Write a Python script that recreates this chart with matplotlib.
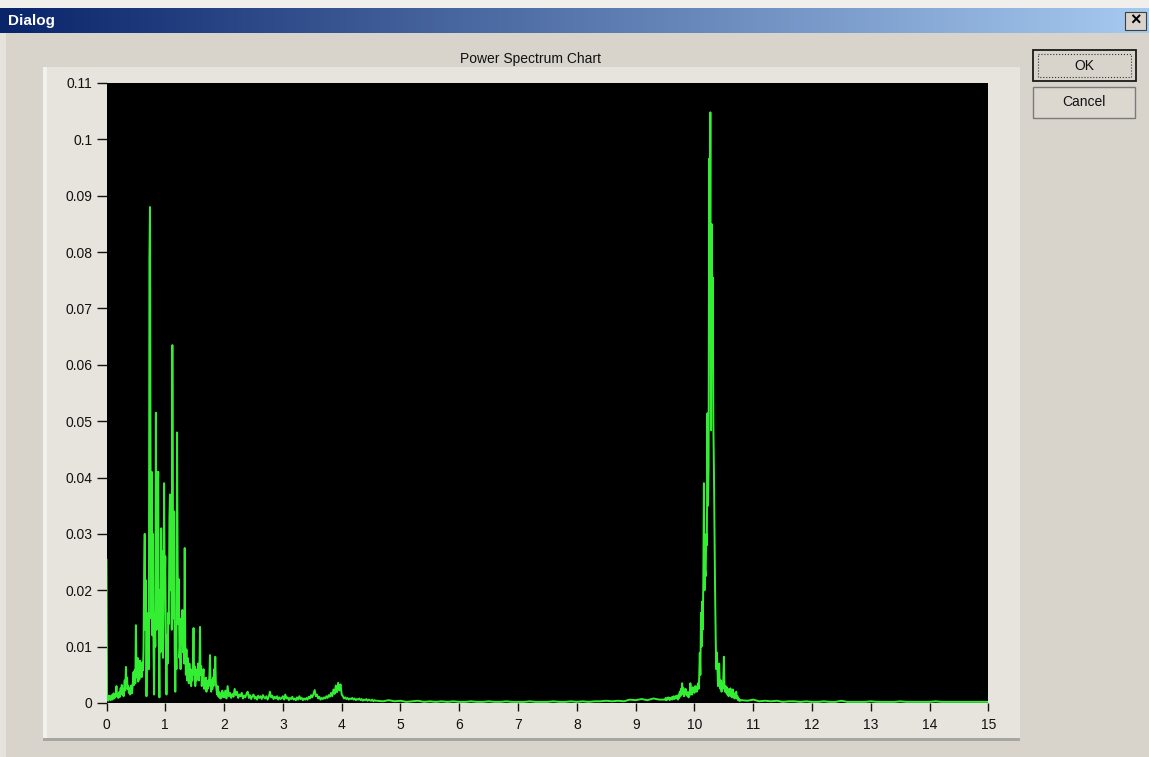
# Power spectrum chart inside an old Windows-style dialog
import numpy as np
import matplotlib.pyplot as plt
from matplotlib.patches import Rectangle

plt.rcParams['font.family'] = ['Liberation Sans', 'DejaVu Sans']

# spectrum values (start Hz, step Hz, power)
low_start, low_step = 0.0, 0.01
power_low = [
    0.0254, 0.0006, 0.0011, 0.0004, 0.0013, 0.0007, 0.0012, 0.0005, 0.0010, 0.0014,
    0.0006, 0.0012, 0.0017, 0.0008, 0.0013, 0.0010, 0.0021, 0.0030, 0.0012, 0.0016,
    0.0009, 0.0014, 0.0020, 0.0011, 0.0026, 0.0018, 0.0032, 0.0015, 0.0024, 0.0012,
    0.0028, 0.0040, 0.0022, 0.0064, 0.0036, 0.0045, 0.0025, 0.0030, 0.0018, 0.0026,
    0.0015, 0.0022, 0.0031, 0.0017, 0.0024, 0.0040, 0.0055, 0.0032, 0.0058, 0.0035,
    0.0138, 0.0062, 0.0045, 0.0080, 0.0038, 0.0068, 0.0042, 0.0075, 0.0050, 0.0065,
    0.0046, 0.0072, 0.0058, 0.0095, 0.0230, 0.0300, 0.0130, 0.0218, 0.0012, 0.0150,
    0.0090, 0.0160, 0.0060, 0.0790, 0.0880, 0.0410, 0.0150, 0.0410, 0.0120, 0.0300,
    0.0090, 0.0015, 0.0160, 0.0100, 0.0515, 0.0130, 0.0410, 0.0380, 0.0410, 0.0110,
    0.0010, 0.0200, 0.0090, 0.0310, 0.0150, 0.0270, 0.0080, 0.0160, 0.0390, 0.0210,
    0.0260, 0.0100, 0.0015, 0.0120, 0.0070, 0.0160, 0.0140, 0.0330, 0.0370, 0.0200,
    0.0366, 0.0130, 0.0635, 0.0340, 0.0150, 0.0340, 0.0090, 0.0020, 0.0110, 0.0060,
    0.0480, 0.0250, 0.0140, 0.0220, 0.0080, 0.0100, 0.0060, 0.0150, 0.0110, 0.0165,
    0.0090, 0.0130, 0.0070, 0.0275, 0.0100, 0.0050, 0.0095, 0.0040, 0.0080, 0.0060,
    0.0035, 0.0070, 0.0045, 0.0060, 0.0030, 0.0055, 0.0040, 0.0070, 0.0133, 0.0050,
    0.0065, 0.0030, 0.0055, 0.0040, 0.0060, 0.0045, 0.0070, 0.0040, 0.0060, 0.0135,
    0.0050, 0.0065, 0.0030, 0.0055, 0.0045, 0.0060, 0.0025, 0.0040, 0.0030, 0.0045,
    0.0020, 0.0035, 0.0025, 0.0040, 0.0030, 0.0050, 0.0085, 0.0035, 0.0020, 0.0040,
    0.0025, 0.0045, 0.0030, 0.0060, 0.0040, 0.0082, 0.0035, 0.0025, 0.0015, 0.0030,
    0.0012, 0.0020, 0.0010, 0.0018, 0.0008, 0.0015, 0.0010, 0.0022, 0.0012, 0.0018,
]

mid_start, mid_step = 2.0, 0.02
power_mid = [
    0.0010, 0.0022, 0.0008, 0.0030, 0.0012, 0.0018, 0.0009, 0.0016, 0.0011, 0.0025,
    0.0014, 0.0020, 0.0009, 0.0015, 0.0012, 0.0018, 0.0008, 0.0013, 0.0010, 0.0016,
    0.0020, 0.0009, 0.0014, 0.0007, 0.0012, 0.0015, 0.0008, 0.0011, 0.0006, 0.0013,
    0.0009, 0.0012, 0.0007, 0.0014, 0.0010, 0.0008, 0.0012, 0.0006, 0.0011, 0.0020,
    0.0010, 0.0013, 0.0007, 0.0011, 0.0008, 0.0012, 0.0006, 0.0010, 0.0007, 0.0009,
    0.0012, 0.0006, 0.0015, 0.0008, 0.0010, 0.0005, 0.0009, 0.0007, 0.0011, 0.0006,
    0.0008, 0.0005, 0.0010, 0.0006, 0.0012, 0.0007, 0.0009, 0.0005, 0.0008, 0.0006,
    0.0009, 0.0006, 0.0011, 0.0008, 0.0014, 0.0010, 0.0016, 0.0023, 0.0012, 0.0015,
    0.0008, 0.0011, 0.0006, 0.0009, 0.0007, 0.0010, 0.0008, 0.0012, 0.0009, 0.0014,
    0.0011, 0.0018, 0.0012, 0.0024, 0.0016, 0.0031, 0.0019, 0.0036, 0.0022, 0.0033,
    0.0015, 0.0012, 0.0008, 0.0010, 0.0007, 0.0009, 0.0006, 0.0008, 0.0007, 0.0009,
    0.0006, 0.0008, 0.0005, 0.0007, 0.0006, 0.0008, 0.0005, 0.0007, 0.0004, 0.0006,
    0.0005, 0.0007, 0.0004, 0.0006, 0.0005, 0.0004, 0.0006, 0.0003, 0.0005, 0.0004,
]

quiet_start, quiet_step = 4.6, 0.1
power_quiet = [
    0.0004, 0.0003, 0.0005, 0.0003, 0.0004, 0.0002, 0.0003, 0.0004, 0.0002, 0.0003,
    0.0002, 0.0003, 0.0002, 0.0003, 0.0002, 0.0002, 0.0003, 0.0002, 0.0002, 0.0003,
    0.0002, 0.0002, 0.0003, 0.0002, 0.0002, 0.0002, 0.0003, 0.0002, 0.0002, 0.0002,
    0.0003, 0.0002, 0.0002, 0.0003, 0.0002, 0.0003, 0.0002, 0.0003, 0.0003, 0.0004,
    0.0003, 0.0004, 0.0003, 0.0006, 0.0005, 0.0007, 0.0005, 0.0008, 0.0006,
]

alpha_start, alpha_step = 9.5, 0.01
power_alpha = [
    0.0006, 0.0009, 0.0005, 0.0008, 0.0006, 0.0010, 0.0007, 0.0009, 0.0005, 0.0008,
    0.0007, 0.0010, 0.0006, 0.0011, 0.0008, 0.0012, 0.0007, 0.0010, 0.0009, 0.0013,
    0.0008, 0.0012, 0.0006, 0.0015, 0.0009, 0.0020, 0.0012, 0.0025, 0.0015, 0.0035,
    0.0018, 0.0027, 0.0012, 0.0022, 0.0016, 0.0025, 0.0014, 0.0020, 0.0012, 0.0018,
    0.0010, 0.0020, 0.0014, 0.0035, 0.0018, 0.0024, 0.0015, 0.0028, 0.0020, 0.0026,
    0.0018, 0.0030, 0.0022, 0.0028, 0.0020, 0.0030, 0.0035, 0.0025, 0.0045, 0.0089,
    0.0050, 0.0160, 0.0100, 0.0180, 0.0130, 0.0220, 0.0390, 0.0200, 0.0236, 0.0225,
    0.0300, 0.0280, 0.0514, 0.0350, 0.0420, 0.0966, 0.0700, 0.1048, 0.0484, 0.0850,
    0.0600, 0.0755, 0.0500, 0.0419, 0.0300, 0.0200, 0.0120, 0.0060, 0.0090, 0.0064,
    0.0030, 0.0050, 0.0070, 0.0035, 0.0025, 0.0040, 0.0020, 0.0035, 0.0025, 0.0045,
    0.0082, 0.0030, 0.0020, 0.0030, 0.0018, 0.0028, 0.0015, 0.0025, 0.0012, 0.0022,
    0.0015, 0.0026, 0.0012, 0.0020, 0.0010, 0.0024, 0.0012, 0.0018, 0.0008, 0.0016,
    0.0010, 0.0020, 0.0008, 0.0012, 0.0005, 0.0008, 0.0004, 0.0006, 0.0004, 0.0005,
]

tail_start, tail_step = 10.8, 0.1
power_tail = [
    0.0005, 0.0004, 0.0006, 0.0003, 0.0004, 0.0003, 0.0004, 0.0002, 0.0003, 0.0003,
    0.0002, 0.0003, 0.0002, 0.0002, 0.0003, 0.0002, 0.0002, 0.0004, 0.0002, 0.0002,
    0.0002, 0.0002, 0.0003, 0.0002, 0.0002, 0.0002, 0.0002, 0.0003, 0.0002, 0.0002,
    0.0002, 0.0002, 0.0002, 0.0003, 0.0002, 0.0002, 0.0002, 0.0002, 0.0002, 0.0002,
    0.0002, 0.0002, 0.0002,
]

x_ticks = list(range(0, 16))
y_ticks = [0, 0.01, 0.02, 0.03, 0.04, 0.05, 0.06, 0.07, 0.08, 0.09, 0.1, 0.11]
y_labels = ['0', '0.01', '0.02', '0.03', '0.04', '0.05', '0.06', '0.07', '0.08', '0.09', '0.1', '0.11']


def bins(start, step, values):
    return start + step * np.arange(len(values))


freq = np.concatenate([bins(low_start, low_step, power_low),
                       bins(mid_start, mid_step, power_mid),
                       bins(quiet_start, quiet_step, power_quiet),
                       bins(alpha_start, alpha_step, power_alpha),
                       bins(tail_start, tail_step, power_tail)])
power = np.concatenate([power_low, power_mid, power_quiet, power_alpha, power_tail])

W, H = 1149, 757
fig = plt.figure(figsize=(W / 100, H / 100), dpi=100)
fig.patch.set_facecolor('#d8d4cc')

# window chrome, drawn in pixel coordinates
bg = fig.add_axes([0, 0, 1, 1], zorder=0)
bg.axis('off')
bg.add_patch(Rectangle((0, 0), W, 8, color='#f0efec', lw=0))
bg.add_patch(Rectangle((0, 33), 6, H, color='#e6e3dd', lw=0))
grad = np.linspace(0, 1, 256)[None, :, None]
left_c = np.array([10, 36, 106]) / 255
right_c = np.array([166, 202, 240]) / 255
bg.imshow(left_c + (right_c - left_c) * grad, extent=(0, W, 33, 8), aspect='auto')
bg.text(8, 20.5, 'Dialog', color='white', fontsize=11, fontweight='bold', va='center', ha='left')

# close button
bg.add_patch(Rectangle((1125, 12), 21, 18, facecolor='#d8d4cc', edgecolor='#404040', lw=0.8))
bg.text(1135.5, 21, '×', fontsize=13, fontweight='bold', ha='center', va='center', color='black')

# chart panel
bg.add_patch(Rectangle((43, 67), 977, 673, facecolor='#e7e4de', lw=0))
bg.add_patch(Rectangle((43, 67), 4, 673, facecolor='#f2f1ed', lw=0))
shade = np.linspace(0, 1, 64)[None, :, None]
c0 = np.array([0.905, 0.894, 0.871])
c1 = np.array([0.58, 0.58, 0.57])
bg.imshow(c0 + (c1 - c0) * shade, extent=(1004, 1020, 740, 67), aspect='auto')
bg.add_patch(Rectangle((43, 738), 977, 3, facecolor='#a8a6a0', lw=0))
bg.text(531, 58.5, 'Power Spectrum Chart', fontsize=10, ha='center', va='center', color='#111111')

# buttons
bg.add_patch(Rectangle((1033, 50), 103, 31, facecolor='#d8d4cc', edgecolor='#1a1a1a', lw=1.3))
bg.add_patch(Rectangle((1038, 54), 93, 23, facecolor='none', edgecolor='#333333', lw=0.8, ls=':'))
bg.text(1084.5, 65.5, 'OK', fontsize=10, ha='center', va='center', color='#111111')
bg.add_patch(Rectangle((1033, 87), 102, 31, facecolor='#dcd8d0', edgecolor='#7a7a78', lw=1.0))
bg.text(1084, 102.5, 'Cancel', fontsize=10, ha='center', va='center', color='#111111')
bg.set_xlim(0, W)
bg.set_ylim(H, 0)

# the spectrum itself
ax = fig.add_axes([106.5 / W, 1 - 703 / H, (988.5 - 106.5) / W, (703 - 83) / H], zorder=2)
ax.set_facecolor('black')
ax.plot(freq, power, color='#33ee33', lw=1.4)
ax.set_xlim(0, 15)
ax.set_ylim(0, 0.11)
ax.set_xticks(x_ticks)
ax.set_yticks(y_ticks)
ax.set_yticklabels(y_labels)
for s in ax.spines.values():
    s.set_visible(False)
ax.tick_params(axis='x', direction='out', length=6, width=1, pad=5, labelsize=10, colors='#111111')
ax.tick_params(axis='y', direction='out', length=7, width=1, pad=3, labelsize=10, colors='#111111')

fig.savefig('out.png', dpi=100, facecolor=fig.get_facecolor())
